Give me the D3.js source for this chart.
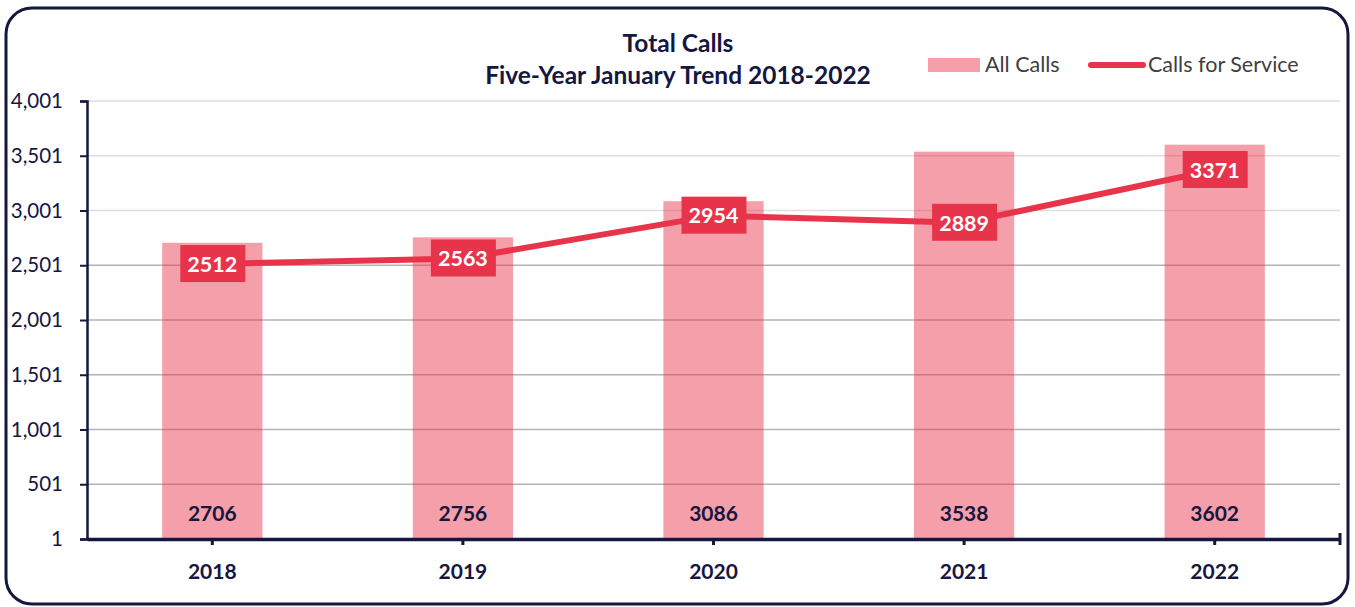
<!DOCTYPE html>
<html>
<head>
<meta charset="utf-8">
<script src="https://cdn.jsdelivr.net/npm/d3@7"></script>
<style>
  body { margin: 0; background: #fff; }
  svg { font-family: Lato, "Open Sans", sans-serif; }
</style>
</head>
<body>
<svg id="chart"></svg>
<script>
const years = ["2018", "2019", "2020", "2021", "2022"]
const allCalls = [2706, 2756, 3086, 3538, 3602]
const callsForService = [2512, 2563, 2954, 2889, 3371]
const yTicks = [1, 501, 1001, 1501, 2001, 2501, 3001, 3501, 4001]

const navy = "#15173f"
const red = "#e8344a"

const W = 1355, H = 607
const plot = { left: 87, right: 1340, top: 101, bottom: 539 }

const svg = d3.select("#chart").attr("width", W).attr("height", H)

//frame
svg.append("rect")
  .attr("x", 6).attr("y", 8)
  .attr("width", 1342).attr("height", 596)
  .attr("rx", 26)
  .attr("fill", "#fff")
  .attr("stroke", navy)
  .attr("stroke-width", 3)

const x = d3.scaleBand()
  .domain(years)
  .range([plot.left, plot.right])
  .paddingInner(0.6)
  .paddingOuter(0.3)

const y = d3.scaleLinear()
  .domain([1, 4001])
  .range([plot.bottom, plot.top])

//gridlines
svg.append("g")
  .selectAll("line")
  .data(yTicks.slice(1))
  .enter()
  .append("line")
  .attr("x1", plot.left).attr("x2", plot.right)
  .attr("y1", d => y(d)).attr("y2", d => y(d))
  .attr("stroke", d => d > 3000 ? "#dedede" : "#b4b4b4")
  .attr("stroke-width", 1.5)

//bars
svg.append("g")
  .selectAll("rect")
  .data(allCalls)
  .enter()
  .append("rect")
  .attr("x", (d, i) => x(years[i]))
  .attr("width", x.bandwidth())
  .attr("y", d => y(d))
  .attr("height", d => y(1) - y(d))
  .attr("fill", red)
  .attr("fill-opacity", 0.47)

//bar labels
svg.append("g")
  .selectAll("text")
  .data(allCalls)
  .enter()
  .append("text")
  .attr("x", (d, i) => x(years[i]) + x.bandwidth() / 2)
  .attr("y", plot.bottom - 18)
  .attr("text-anchor", "middle")
  .attr("font-size", 21)
  .attr("font-weight", "bold")
  .attr("fill", navy)
  .text(d => d)

//y axis
const yAxis = svg.append("g")
  .attr("transform", `translate(${plot.left},0)`)
  .call(d3.axisLeft(y).tickValues(yTicks).tickFormat(d3.format(",")).tickSize(7).tickPadding(17))
yAxis.select(".domain").attr("stroke", navy).attr("stroke-width", 2.5)
yAxis.selectAll(".tick line").attr("stroke", navy).attr("stroke-width", 2)
yAxis.selectAll(".tick text")
  .attr("fill", navy)
  .attr("font-size", 20.5)
  .attr("font-family", "Lato, sans-serif")

//x axis
const xAxis = svg.append("g")
  .attr("transform", `translate(0,${plot.bottom})`)
  .call(d3.axisBottom(x).tickSize(6).tickSizeOuter(0).tickPadding(19))
xAxis.select(".domain").attr("stroke", navy).attr("stroke-width", 3.5)
xAxis.selectAll(".tick line").attr("stroke", navy).attr("stroke-width", 3)
xAxis.selectAll(".tick text")
  .attr("fill", navy)
  .attr("font-size", 21)
  .attr("font-weight", "bold")
  .attr("font-family", "Lato, sans-serif")
xAxis.append("line")
  .attr("x1", plot.right).attr("x2", plot.right)
  .attr("y1", -6).attr("y2", 6)
  .attr("stroke", navy).attr("stroke-width", 3)

//line
const cx = i => x(years[i]) + x.bandwidth() / 2
const line = d3.line()
  .x((d, i) => cx(i))
  .y(d => y(d))

svg.append("path")
  .datum(callsForService)
  .attr("d", line)
  .attr("fill", "none")
  .attr("stroke", red)
  .attr("stroke-width", 6)

//line labels
const lbl = svg.append("g")
  .selectAll("g")
  .data(callsForService)
  .enter()
  .append("g")
  .attr("transform", (d, i) => `translate(${cx(i)},${y(d)})`)
lbl.append("rect")
  .attr("x", -32).attr("y", -19)
  .attr("width", 65).attr("height", 37)
  .attr("fill", red)
lbl.append("text")
  .attr("text-anchor", "middle")
  .attr("dy", "0.36em")
  .attr("font-size", 21.5)
  .attr("font-weight", "bold")
  .attr("fill", "#fff")
  .text(d => d)

//title
const title = svg.append("text")
  .attr("text-anchor", "middle")
  .attr("font-size", 24.5)
  .attr("font-weight", "bold")
  .attr("fill", navy)
title.append("tspan").attr("x", 678).attr("y", 52).text("Total Calls")
title.append("tspan").attr("x", 678).attr("y", 84).text("Five-Year January Trend 2018-2022")

//legend
const leg = svg.append("g")
leg.append("rect")
  .attr("x", 928).attr("y", 58)
  .attr("width", 52).attr("height", 14)
  .attr("fill", red).attr("fill-opacity", 0.47)
leg.append("text")
  .attr("x", 985).attr("y", 72)
  .attr("font-size", 21.5)
  .attr("fill", "#404040")
  .text("All Calls")
leg.append("line")
  .attr("x1", 1091).attr("x2", 1143)
  .attr("y1", 65).attr("y2", 65)
  .attr("stroke", red).attr("stroke-width", 6)
  .attr("stroke-linecap", "round")
leg.append("text")
  .attr("x", 1148).attr("y", 72)
  .attr("font-size", 21.5)
  .attr("fill", "#404040")
  .text("Calls for Service")
</script>
</body>
</html>
